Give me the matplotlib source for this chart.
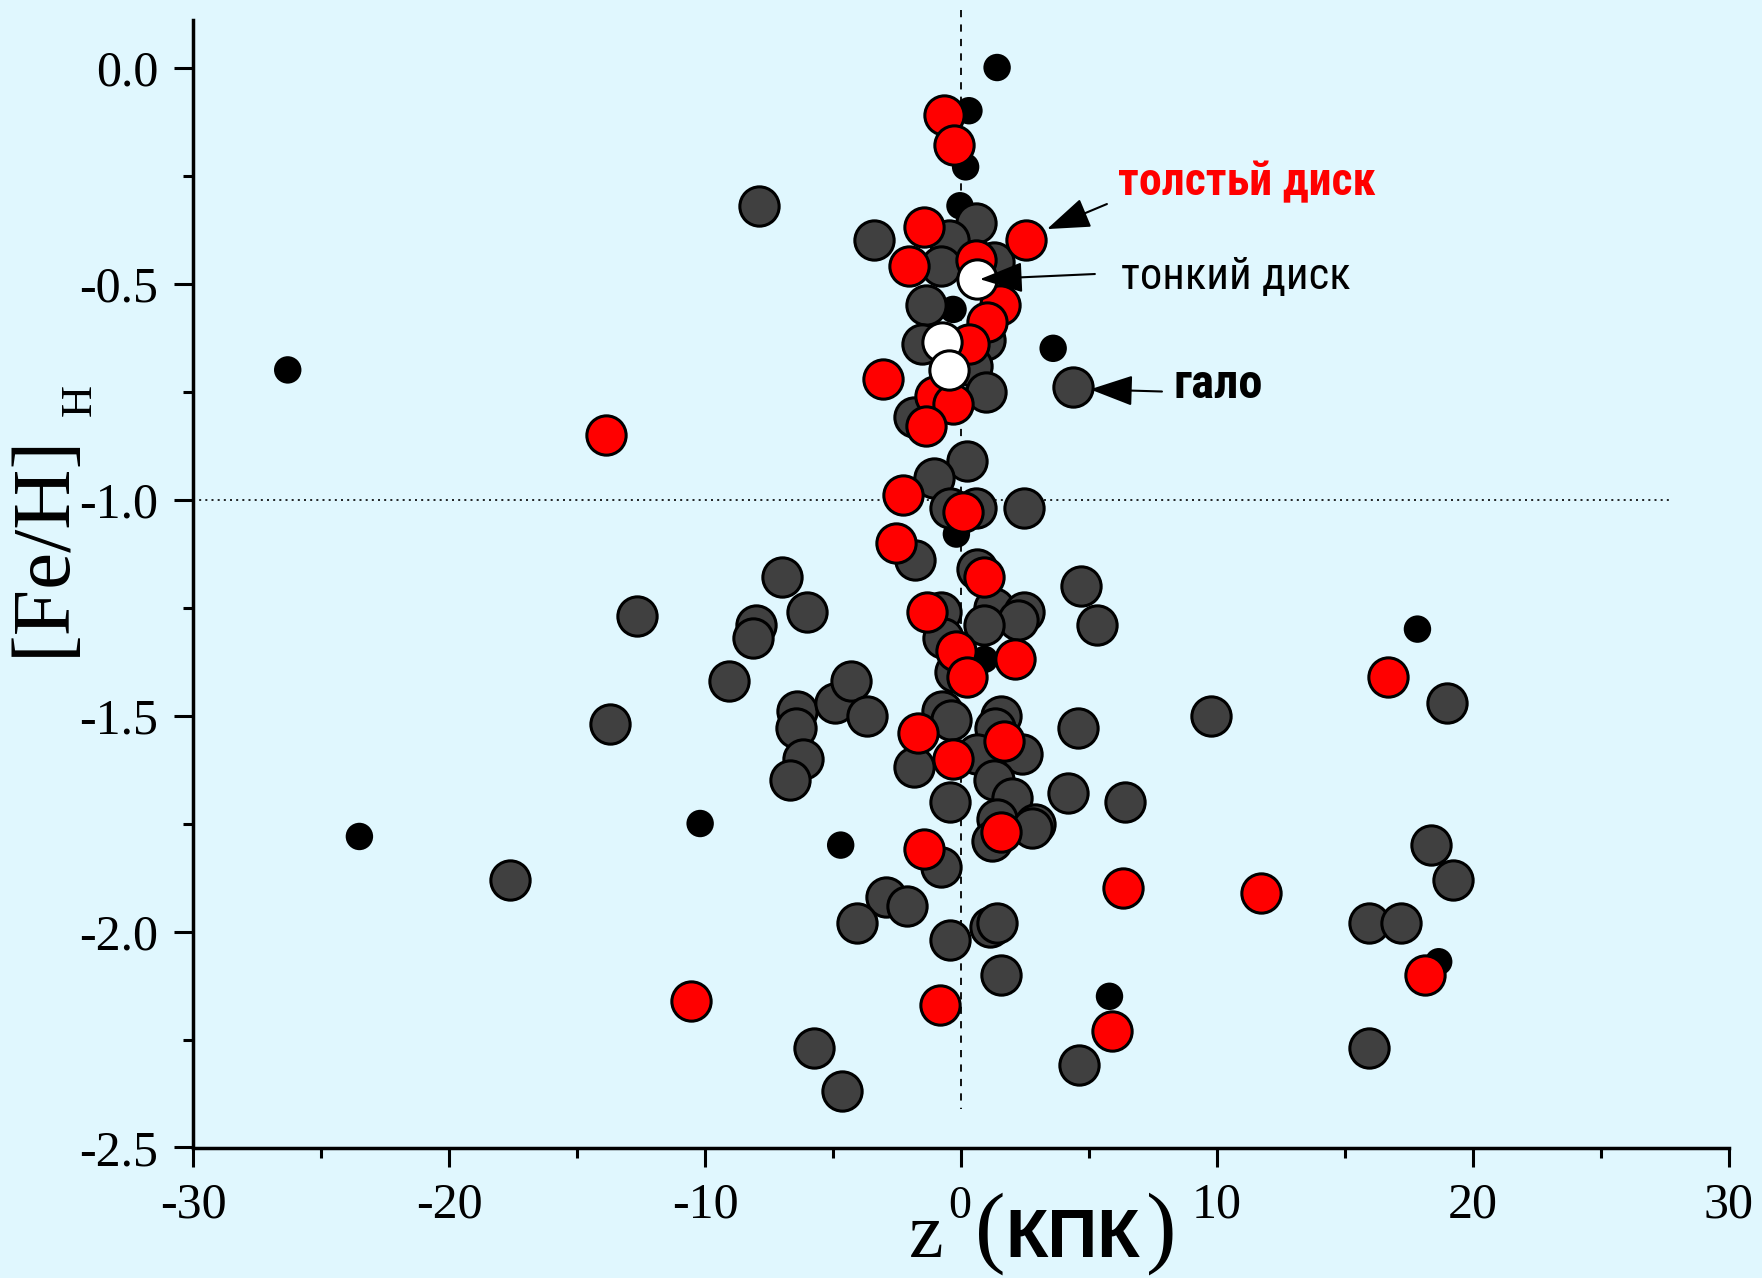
import matplotlib
matplotlib.use("Agg")
import matplotlib.pyplot as plt
from matplotlib.ticker import MultipleLocator, FixedLocator

BG = "#e0f7fe"
W, H = 1762, 1278

# halo stars (large dark grey)
halo_z = [-7.9, -3.38, 0.57, -0.48, -0.79, 1.27, -1.36, -1.54, 0.92, 0.44, 0.97,
          -1.84, 4.39, 0.22, -1.05, -0.44, 0.57, 2.46, -1.80, 0.61, -0.79, 1.27,
          2.46, 2.24, 0.88, -0.70, -0.22, 4.70, 5.31, -0.75, -0.40, 1.58, 1.32,
          4.57, -1.84, 0.61, 2.37, 1.27, 1.98, -0.44, 4.17, 6.41, 1.41, 2.90,
          2.77, 1.23, -0.79, -2.94, -2.11, -4.08, -0.44, 1.14, 1.41, 1.58, -5.75,
          -4.66, 4.61, -6.98, -12.65, -6.02, -7.99, -8.12, -9.05, -13.7, -6.41,
          -6.46, -6.19, -6.68, -4.92, -4.30, -3.69, -17.61, 9.75, 19.0, 18.35,
          19.2, 15.93, 17.17, 15.93]
halo_feh = [-0.32, -0.40, -0.36, -0.40, -0.46, -0.45, -0.55, -0.64, -0.63, -0.69,
            -0.75, -0.81, -0.74, -0.91, -0.95, -1.02, -1.02, -1.02, -1.14, -1.16,
            -1.26, -1.25, -1.26, -1.28, -1.29, -1.32, -1.40, -1.20, -1.29, -1.49,
            -1.51, -1.50, -1.53, -1.53, -1.62, -1.59, -1.59, -1.65, -1.69, -1.70,
            -1.68, -1.70, -1.74, -1.75, -1.76, -1.79, -1.85, -1.92, -1.94, -1.98,
            -2.02, -1.99, -1.98, -2.10, -2.27, -2.37, -2.31, -1.18, -1.27, -1.26,
            -1.29, -1.32, -1.42, -1.52, -1.49, -1.53, -1.60, -1.65, -1.47, -1.42,
            -1.50, -1.88, -1.50, -1.47, -1.80, -1.88, -1.98, -1.98, -2.27]

# thick disk (red)
thick_z = [-0.66, -0.26, 2.55, -1.45, -2.02, 0.57, 1.54, 1.0, 0.31, -3.03, -1.0,
           -0.31, -1.36, -13.88, -2.28, 0.09, -2.55, 0.88, -1.32, -0.18, 2.11,
           0.22, 16.69, -1.67, -0.31, 1.67, 1.58, -1.45, 6.32, 11.73, -10.54,
           -0.83, 5.88, 18.14]
thick_feh = [-0.11, -0.18, -0.40, -0.37, -0.46, -0.445, -0.55, -0.59, -0.64, -0.72,
             -0.76, -0.78, -0.83, -0.85, -0.99, -1.03, -1.10, -1.18, -1.26, -1.35,
             -1.37, -1.41, -1.41, -1.54, -1.60, -1.56, -1.77, -1.81, -1.90, -1.91,
             -2.16, -2.17, -2.23, -2.10]

# thin disk (white)
thin_z = [0.61, -0.75, -0.48]
thin_feh = [-0.49, -0.635, -0.70]

# remaining objects (small black dots)
other_z = [1.41, 0.31, 0.18, -0.04, -0.31, 3.6, -26.3, -0.18, 0.92, 17.83, -23.5,
           -10.19, -4.70, 5.80, 18.66]
other_feh = [0.0, -0.10, -0.23, -0.32, -0.56, -0.65, -0.70, -1.08, -1.37, -1.30,
             -1.78, -1.75, -1.80, -2.15, -2.07]

x_ticks = [-30, -20, -10, 0, 10, 20, 30]
x_ticklabels = ["-30", "-20", "-10", "", "10", "20", "30"]
y_ticks = [0.0, -0.5, -1.0, -1.5, -2.0, -2.5]
y_ticklabels = ["0.0", "-0.5", "-1.0", "-1.5", "-2.0", "-2.5"]

SERIF = ["Liberation Serif", "DejaVu Serif"]
SANS = ["Liberation Sans", "DejaVu Sans"]
CONDENSED = ["Roboto Condensed", "Liberation Sans Narrow", "Liberation Sans",
             "DejaVu Sans"]


def fpos(x, y):
    return x / W, 1 - y / H


fig = plt.figure(figsize=(W / 100, H / 100), dpi=100, facecolor=BG)
ax = fig.add_axes([193 / W, 1 - 1147.5 / H, 1536 / W, 1127.5 / H])
ax.set_facecolor(BG)

ax.set_xlim(-30, 30)
ax.set_ylim(-2.5, 0.11)
for side in ("top", "right"):
    ax.spines[side].set_visible(False)
for side in ("left", "bottom"):
    ax.spines[side].set_linewidth(2.5)

ax.xaxis.set_major_locator(FixedLocator(x_ticks))
ax.set_xticklabels(x_ticklabels)
ax.xaxis.set_minor_locator(MultipleLocator(5))
ax.yaxis.set_major_locator(FixedLocator(y_ticks))
ax.set_yticklabels(y_ticklabels)
ax.yaxis.set_minor_locator(MultipleLocator(0.25))
ax.tick_params(which="major", direction="out", length=14, width=2.2, pad=11)
ax.tick_params(which="minor", direction="out", length=7, width=2.2)
for lab in ax.get_xticklabels() + ax.get_yticklabels():
    lab.set_fontfamily(SERIF)
    lab.set_fontsize(36)

# reference lines
ax.plot([0, 0], [0.133, -2.41], color="black", lw=1.3, ls=(0, (4, 4)),
        clip_on=False, zorder=1)
ax.plot([-30, 27.8], [-1.0, -1.0], color="black", lw=1.2, ls=(0, (1.2, 2.5)),
        zorder=1)

ax.scatter(other_z, other_feh, s=390, c="black", edgecolors="none", zorder=2,
           clip_on=False)
ax.scatter(halo_z, halo_feh, s=800, c="#404040", edgecolors="black",
           linewidths=2.2, zorder=3)
ax.scatter(thick_z, thick_feh, s=800, c="#ff0000", edgecolors="black",
           linewidths=2.2, zorder=4)
ax.scatter(thin_z, thin_feh, s=800, c="white", edgecolors="black",
           linewidths=2.2, zorder=5)

arrow = dict(arrowstyle="-|>,head_length=0.9,head_width=0.32", color="black",
             lw=1.5, mutation_scale=30, shrinkA=0, shrinkB=0)
ax.annotate("", xy=(3.36, -0.374), xytext=(5.70, -0.316), arrowprops=arrow,
            zorder=6)
ax.annotate("", xy=(0.74, -0.49), xytext=(5.23, -0.478), arrowprops=arrow,
            zorder=6)
ax.annotate("", xy=(5.04, -0.745), xytext=(7.85, -0.75), arrowprops=arrow,
            zorder=6)

# population labels
fig.text(*fpos(1118, 195), "толстьй диск", color="#ff0000", fontsize=33,
         fontweight="bold", family=CONDENSED, ha="left", va="baseline")
fig.text(*fpos(1121, 289), "тонкий диск", color="black", fontsize=32,
         family=CONDENSED, ha="left", va="baseline")
fig.text(*fpos(1173, 398), "гало", color="black", fontsize=35,
         fontweight="bold", family=CONDENSED, ha="left", va="baseline")

# y axis label: [Fe/H] with subscript H
fig.text(*fpos(44, 545), "[Fe/H]", rotation=90, ha="center", va="center",
         fontsize=60, family=SERIF)
fig.text(*fpos(80, 400), "H", rotation=90, ha="center", va="center",
         fontsize=32, family=SERIF)

# x axis label: z0(КПК)
fig.text(*fpos(909, 1257), "z", ha="left", va="baseline", fontsize=56,
         family=SERIF)
fig.text(*fpos(948, 1218), "0", ha="left", va="baseline", fontsize=33,
         family=SERIF)
fig.text(*fpos(975, 1256), "(", ha="left", va="baseline", fontsize=66,
         family=SERIF)
fig.text(*fpos(1005, 1257), "КПК", ha="left", va="baseline", fontsize=50,
         fontweight="bold", family=SANS)
fig.text(*fpos(1146, 1256), ")", ha="left", va="baseline", fontsize=66,
         family=SERIF)

fig.savefig("out.png", dpi=100, facecolor=BG)
